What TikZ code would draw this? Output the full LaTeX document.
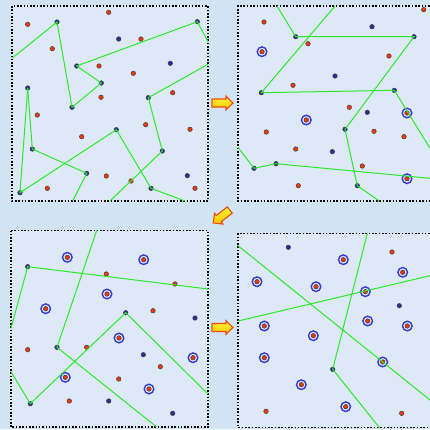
\documentclass[tikz,border=0pt]{standalone}
\definecolor{bgblue}{HTML}{D2E3F4}
\definecolor{panelbg}{HTML}{DDE9F7}
\definecolor{dotred}{HTML}{E8380F}
\definecolor{dotblue}{HTML}{2E2E96}
\definecolor{ringblue}{HTML}{3A3AD4}
\definecolor{lgreen}{HTML}{2EE82E}
\definecolor{arrowedge}{HTML}{F04A10}
\definecolor{arrowtop}{HTML}{FFF43A}
\definecolor{arrowbot}{HTML}{FFC800}
\tikzset{
  rd/.style={circle, fill=dotred, draw=black!75, line width=0.45pt, minimum size=4.6pt, inner sep=0},
  bd/.style={circle, fill=dotblue, draw=black!75, line width=0.45pt, minimum size=4.6pt, inner sep=0},
  rr/.style={circle, draw=ringblue, line width=1.4pt, minimum size=9.6pt, inner sep=0,
    path picture={\filldraw[fill=dotred, draw=black!75, line width=0.45pt] (path picture bounding box.center) circle (2.3pt);}},
  gl/.style={draw=lgreen, line width=1pt},
  frame/.style={draw=black, line width=1.8pt, dash pattern=on 1.6pt off 1.7pt},
  blockarrow/.style={draw=arrowedge, line width=1.1pt, line join=miter, top color=arrowtop, bottom color=arrowbot}
}
\begin{document}
\begin{tikzpicture}[x=1pt,y=-1pt]
\useasboundingbox (0,0) rectangle (430,429);
\fill[bgblue] (0,0) rectangle (430,429);
% panel backgrounds
\fill[panelbg] (12,6) rectangle (208,201);
\fill[panelbg] (238,6) rectangle (430,201);
\fill[panelbg] (11,230.5) rectangle (208,427);
\fill[panelbg] (238,233.5) rectangle (430,427.5);
% frames
\draw[frame] (12,6) rectangle (208,201);
\draw[frame] (433,6) -- (238,6) -- (238,201) -- (433,201);
\draw[frame] (11,230.5) rectangle (208,427);
\draw[frame] (433,233.5) -- (238,233.5) -- (238,427.5) -- (433,427.5);

% ---------- panel 1 ----------
\foreach \n/\x/\y in {a1/108.7/12.3, a2/27.7/24.3, a3/52.3/48.7, a4/141/39, a5/99/66, a6/133.3/73.3,
  a7/101/97.3, a8/172.7/92.7, a9/37.3/115, a10/145.7/124.7, a11/190/129.3, a12/81.7/136.7,
  a13/106.3/176, a14/131/181, a15/47.3/188.3, a16/195/188.3}
  \node[rd] (\n) at (\x,\y) {};
\foreach \n/\x/\y in {b1/57/22, b2/118.7/39, b3/197.3/21.7, b4/170.3/63.3, b5/76.7/66, b6/101.3/83,
  b7/27.7/88, b8/148.3/97.7, b9/72/107.3, b10/116.3/129.7, b11/32.3/149, b12/162.3/151,
  b13/86.7/173.3, b14/187.3/175.7, b15/151/188.3, b16/20/192.7}
  \node[bd] (\n) at (\x,\y) {};
\coordinate (e1) at (12,58.3);
\coordinate (e2) at (208,41.7);
\coordinate (e3) at (208,64.3);
\coordinate (e4) at (110,201);
\coordinate (e5) at (72.7,201);
\coordinate (e6) at (185,201);
\draw[gl] (e1) -- (b1.center) -- (b9.center) -- (b6.center) -- (b5.center) -- (b3.center) -- (e2);
\draw[gl] (e3) -- (b8.center) -- (b12.center) -- (e4);
\draw[gl] (b7.center) -- (b11.center) -- (b13.center) -- (e5);
\draw[gl] (b7.center) -- (b16.center) -- (b10.center) -- (b15.center) -- (e6);

% ---------- panel 2 ----------
\foreach \n/\x/\y in {c1/423.7/9.7, c2/264/22, c3/308/43.7, c5/389/56, c6/293/85.3, c7/349.3/107.3,
  c10/266.3/132, c11/374/131.3, c12/404/136.7, c13/295.7/149, c14/362.3/166, c16/298.3/185.7}
  \node[rd] (\n) at (\x,\y) {};
\foreach \n/\x/\y in {c4/262/51.7, c8/306.3/120, c9/407/113, c15/407/178.7}
  \node[rr] (\n) at (\x,\y) {};
\foreach \n/\x/\y in {d1/372/26.7, d2/295.7/36.7, d3/414/36.7, d4/335/76, d5/261.3/92.7, d6/394.3/90.3,
  d7/367.3/112.3, d8/345/129.3, d9/332.3/151.7, d10/276/163.7, d11/254/168.3, d12/357.3/185.7}
  \node[bd] (\n) at (\x,\y) {};
\coordinate (f1) at (277,6);
\coordinate (f2) at (379.3,201);
\coordinate (f3) at (335,6);
\coordinate (f4) at (430,148.3);
\coordinate (f5) at (238,147.3);
\coordinate (f6) at (430,178.3);
\draw[gl] (f1) -- (d2.center) -- (d3.center) -- (d8.center) -- (d12.center) -- (f2);
\draw[gl] (f3) -- (d5.center) -- (d6.center) -- (f4);
\draw[gl] (f5) -- (d11.center) -- (d10.center) -- (f6);

% ---------- panel 3 ----------
\foreach \n/\x/\y in {g3/106.3/274, g4/175/284, g7/153/310.7, g9/27.7/349.7, g10/86.7/347.3,
  g12/160.3/366.7, g14/118.7/379, g16/69.3/401}
  \node[rd] (\n) at (\x,\y) {};
\foreach \n/\x/\y in {g1/67.3/257.3, g2/143.7/259.7, g5/107/294, g6/45.7/308.7, g8/119/338,
  g11/193/357.7, g13/65.3/377.3, g15/149/389}
  \node[rr] (\n) at (\x,\y) {};
\foreach \n/\x/\y in {h1/27.7/266.7, h2/125.7/312.7, h3/195/318, h4/57/347.3, h5/143.3/354.7,
  h6/30.3/403.7, h7/108.7/401, h8/172.7/413.3}
  \node[bd] (\n) at (\x,\y) {};
\coordinate (k1) at (11,328.3);
\coordinate (k2) at (208,289);
\coordinate (k3) at (96.7,230.5);
\coordinate (k4) at (156.7,427);
\coordinate (k5) at (11,371.7);
\coordinate (k6) at (208,394);
\draw[gl] (k1) -- (h1.center) -- (k2);
\draw[gl] (k3) -- (h4.center) -- (k4);
\draw[gl] (k5) -- (h6.center) -- (h2.center) -- (k6);

% ---------- panel 4 ----------
\foreach \n/\x/\y in {m2/392/252, m18/266/411.3, m19/401.7/413.3}
  \node[rd] (\n) at (\x,\y) {};
\foreach \n/\x/\y in {m1/288.3/247.3, m8/399.3/305.7, m15/332.7/369.3}
  \node[bd] (\n) at (\x,\y) {};
\foreach \n/\x/\y in {m3/343.3/259.7, m4/402.7/272.3, m5/257/281.7, m6/316/286.7, m7/365.3/291.7,
  m9/264.3/326, m10/367.7/321, m11/407.3/326, m12/313.3/335.7, m13/264.3/357.7,
  m14/382.7/362, m16/301.3/384.7, m17/345.7/406.7}
  \node[rr] (\n) at (\x,\y) {};
\coordinate (n1) at (238,245.7);
\coordinate (n2) at (430,400);
\coordinate (n3) at (238,321);
\coordinate (n4) at (430,275.7);
\coordinate (n5) at (367.3,233.5);
\coordinate (n6) at (379.3,427.5);
\draw[gl] (n1) -- (n2);
\draw[gl] (n3) -- (n4);
\draw[gl] (n5) -- (m15.center) -- (n6);

% ---------- arrows ----------
\coordinate (ar1) at (222.5,103);
\coordinate (ar2) at (221.5,216.5);
\coordinate (ar3) at (222.5,327.5);
\foreach \c/\r in {ar1/0, ar2/218, ar3/0}
  \draw[blockarrow, shift={(\c)}, rotate=\r]
    (-10.5,-4) -- (3.5,-4) -- (3.5,-6.8) -- (10.5,0) -- (3.5,6.8) -- (3.5,4) -- (-10.5,4) -- cycle;
\end{tikzpicture}
\end{document}
